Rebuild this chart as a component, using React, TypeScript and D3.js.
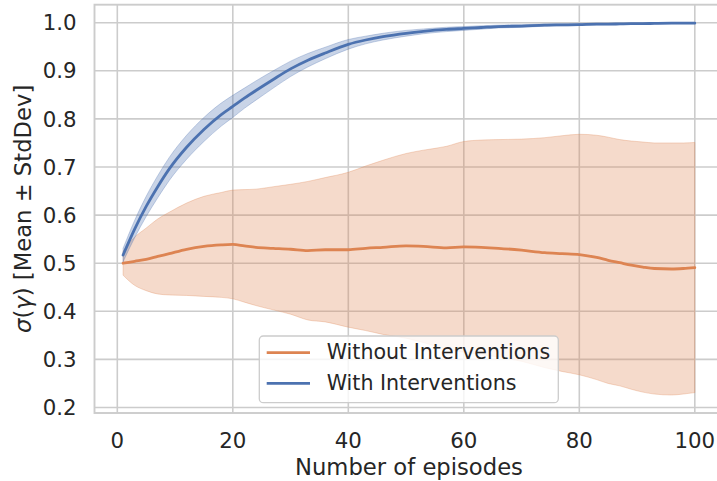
import React from "react";
import * as d3 from "d3";

// Episode indices at which the learning curves were sampled
const episodes = [1, 3, 5, 7, 9, 12, 15, 18, 20, 22, 24, 27, 30, 33, 36, 40, 43, 46, 50, 53, 57, 60, 63, 66, 70, 74, 77, 80, 83, 85, 87, 89, 91, 93, 96, 98, 100];

// Mean and standard deviation of sigma(gamma), with interventions
const withMean = [0.517, 0.571, 0.618, 0.659, 0.696, 0.741, 0.778, 0.809, 0.826, 0.843, 0.859, 0.882, 0.904, 0.922, 0.937, 0.955, 0.964, 0.971, 0.978, 0.982, 0.986, 0.988, 0.99, 0.992, 0.993, 0.995, 0.9955, 0.996, 0.997, 0.997, 0.9975, 0.998, 0.998, 0.9985, 0.999, 0.999, 0.999];
const withStd = [0.014, 0.018, 0.021, 0.023, 0.024, 0.025, 0.025, 0.024, 0.023, 0.021, 0.02, 0.018, 0.016, 0.014, 0.012, 0.01, 0.008, 0.007, 0.006, 0.005, 0.0045, 0.004, 0.0035, 0.003, 0.0027, 0.0023, 0.002, 0.0018, 0.0016, 0.0015, 0.0015, 0.0014, 0.0013, 0.0012, 0.0011, 0.001, 0.001];

// Mean and standard deviation of sigma(gamma), without interventions
const withoutMean = [0.5, 0.504, 0.508, 0.514, 0.52, 0.529, 0.535, 0.538, 0.539, 0.536, 0.533, 0.531, 0.529, 0.526, 0.528, 0.528, 0.531, 0.533, 0.536, 0.535, 0.532, 0.534, 0.533, 0.531, 0.527, 0.522, 0.52, 0.518, 0.512, 0.506, 0.501, 0.496, 0.492, 0.489, 0.488, 0.489, 0.491];
const withoutStd = [0.025, 0.05, 0.065, 0.078, 0.086, 0.096, 0.104, 0.109, 0.113, 0.117, 0.121, 0.128, 0.135, 0.144, 0.15, 0.161, 0.171, 0.181, 0.192, 0.2, 0.211, 0.219, 0.223, 0.226, 0.231, 0.239, 0.245, 0.25, 0.254, 0.256, 0.256, 0.258, 0.26, 0.261, 0.262, 0.261, 0.26];

const xTicks = [0, 20, 40, 60, 80, 100];
const yTicks = [0.2, 0.3, 0.4, 0.5, 0.6, 0.7, 0.8, 0.9, 1.0];

const seriesNames = ["Without Interventions", "With Interventions"];
const seriesColors = ["#DD8452", "#4C72B0"];

const W = 717;
const H = 481;
const plot = { left: 94.5, right: 723.4, top: 4.7, bottom: 413 };
const TEXT = "#262626";
const GRID = "#cccccc";
const FONT = "'DejaVu Sans', sans-serif";

export default function App() {
  const x = d3.scaleLinear().domain([-3.95, 104.95]).range([plot.left, plot.right]);
  const y = d3.scaleLinear().domain([0.1886, 1.0374]).range([plot.bottom, plot.top]);

  const series = [
    { name: seriesNames[0], color: seriesColors[0], mean: withoutMean, std: withoutStd },
    { name: seriesNames[1], color: seriesColors[1], mean: withMean, std: withStd },
  ];

  const line = (m: number[]) =>
    d3
      .line<number>()
      .x((_, i) => x(episodes[i]))
      .y((d) => y(d))
      .curve(d3.curveMonotoneX)(m) || "";

  const band = (m: number[], s: number[]) =>
    d3
      .area<number>()
      .x((_, i) => x(episodes[i]))
      .y0((d, i) => y(d - s[i]))
      .y1((d, i) => y(d + s[i]))
      .curve(d3.curveMonotoneX)(m) || "";

  const legend = { x: 259.3, y: 336, w: 299, h: 66.7 };

  return (
    <svg
      width={W}
      height={H}
      style={{ position: "absolute", left: 0, top: 0, background: "#fff" }}
      fontFamily={FONT}
    >
      <rect x={0} y={0} width={W} height={H} fill="#fff" />
      {/* grid */}
      <g stroke={GRID} strokeWidth={1.6}>
        {xTicks.map((t) => (
          <line key={"gx" + t} x1={x(t)} x2={x(t)} y1={plot.top} y2={plot.bottom} />
        ))}
        {yTicks.map((t) => (
          <line key={"gy" + t} x1={plot.left} x2={plot.right} y1={y(t)} y2={y(t)} />
        ))}
      </g>

      {/* bands and mean curves */}
      {series.map((s) => (
        <g key={s.name}>
          <path
            d={band(s.mean, s.std)}
            fill={s.color}
            fillOpacity={0.3}
            stroke={s.color}
            strokeOpacity={0.3}
            strokeWidth={1}
          />
          <path d={line(s.mean)} fill="none" stroke={s.color} strokeWidth={2.8} strokeLinecap="round" />
        </g>
      ))}

      {/* spines */}
      <rect
        x={plot.left}
        y={plot.top}
        width={plot.right - plot.left}
        height={plot.bottom - plot.top}
        fill="none"
        stroke={GRID}
        strokeWidth={1.9}
      />

      {/* tick labels */}
      <g fill={TEXT} fontSize={21.3}>
        {xTicks.map((t) => (
          <text key={"tx" + t} x={x(t)} y={447.7} textAnchor="middle">
            {t}
          </text>
        ))}
        {yTicks.map((t) => (
          <text key={"ty" + t} x={76.5} y={y(t)} dy="0.36em" textAnchor="end">
            {t.toFixed(1)}
          </text>
        ))}
      </g>

      {/* axis labels */}
      <text x={(plot.left + plot.right) / 2} y={475} textAnchor="middle" fill={TEXT} fontSize={22.7}>
        Number of episodes
      </text>
      <text
        transform={`translate(31, ${(plot.top + plot.bottom) / 2}) rotate(-90)`}
        textAnchor="middle"
        fill={TEXT}
        fontSize={22.7}
      >
        <tspan fontStyle="italic">σ</tspan>(<tspan fontStyle="italic">γ</tspan>) [Mean ± StdDev]
      </text>

      {/* legend */}
      <g>
        <rect
          x={legend.x}
          y={legend.y}
          width={legend.w}
          height={legend.h}
          rx={4}
          fill="#fff"
          fillOpacity={0.8}
          stroke={GRID}
          strokeWidth={1.3}
        />
        {series.map((s, i) => (
          <g key={"lg" + s.name}>
            <line
              x1={266.7}
              x2={310}
              y1={352.7 + i * 30.6}
              y2={352.7 + i * 30.6}
              stroke={s.color}
              strokeWidth={2.8}
            />
            <text x={326.7} y={359.3 + i * 30.6} fill={TEXT} fontSize={20.6}>
              {s.name}
            </text>
          </g>
        ))}
      </g>
    </svg>
  );
}
